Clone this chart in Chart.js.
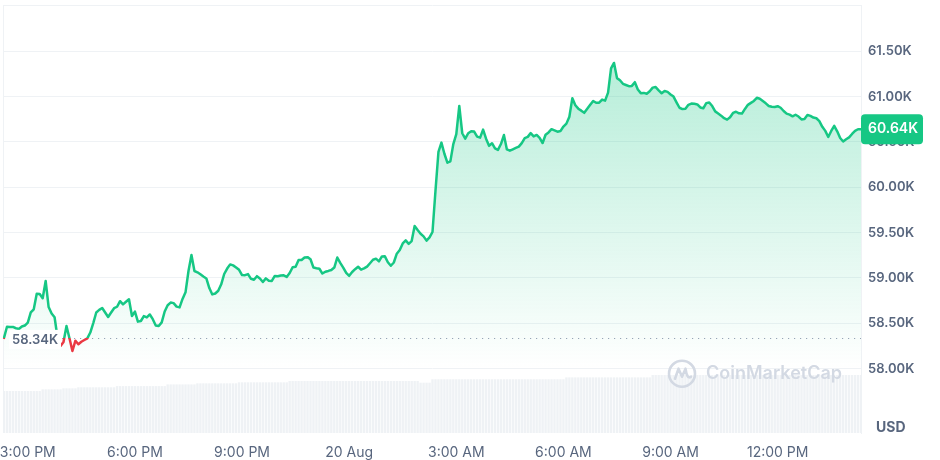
<!DOCTYPE html>
<html><head><meta charset="utf-8">
<script src="https://cdn.jsdelivr.net/npm/chart.js@4.4.1/dist/chart.umd.min.js"></script>
<style>html,body{margin:0;padding:0;background:#fff;}#wrap{width:940px;height:460px;}canvas{display:block;}</style>
</head><body><div id="wrap"><canvas id="c" width="940" height="460"></canvas></div>
<script>
// ---- data ----
const START_HOUR = 14, START_MIN = 20, STEP_MIN = 5;
const prices = [
58340,58462,58460,58460,58446,58438,58465,58476,58509,58620,
58655,58827,58824,58777,58967,58680,58608,58567,58339,58250,
58294,58471,58335,58195,58309,58269,58297,58316,58335,58399,
58503,58620,58648,58669,58620,58570,58619,58667,58683,58744,
58709,58738,58766,58581,58629,58519,58526,58580,58566,58598,
58546,58477,58470,58511,58631,58700,58729,58723,58684,58676,
58769,58842,59077,59254,59077,59063,59041,59016,58995,58889,
58819,58829,58859,58930,59044,59104,59150,59139,59116,59090,
59033,59031,59043,58991,58981,59020,58995,58956,58996,58969,
58967,59023,59019,59027,59029,59012,59055,59119,59124,59198,
59198,59226,59230,59207,59115,59108,59102,59049,59069,59078,
59088,59115,59226,59166,59114,59056,59024,59066,59097,59124,
59092,59106,59126,59163,59201,59213,59183,59238,59239,59174,
59135,59171,59268,59308,59381,59414,59377,59407,59574,59529,
59488,59459,59412,59447,59507,59960,60390,60493,60370,60271,
60286,60477,60587,60897,60596,60536,60596,60618,60615,60559,
60548,60636,60536,60457,60486,60430,60413,60477,60576,60418,
60404,60419,60434,60448,60487,60543,60556,60597,60561,60577,
60545,60488,60579,60605,60641,60627,60613,60620,60670,60702,
60779,60983,60905,60867,60845,60821,60865,60909,60952,60932,
60933,60967,60955,61044,61311,61371,61204,61181,61141,61128,
61115,61118,61159,61078,61038,61041,61032,61059,61099,61105,
61069,61037,61062,61052,61024,61000,60937,60877,60862,60866,
60909,60923,60921,60914,60880,60871,60928,60935,60896,60837,
60814,60790,60762,60746,60772,60820,60833,60816,60813,60864,
60909,60931,60952,60987,60977,60952,60926,60897,60888,60885,
60894,60877,60841,60812,60801,60783,60800,60780,60748,60753,
60797,60787,60769,60761,60730,60667,60622,60555,60621,60677,
60617,60543,60505,60530,60551,60588,60622,60640,60640
];
// 24h volume (billions USD)
const volumes = [
24.5,24.5,24.5,24.5,24.5,24.5,24.5,24.5,24.5,24.5,24.5,24.5,24.5,
25.5,25.5,25.5,25.5,25.5,25.5,25.5,
26.1,26.1,26.1,26.1,26.1,
26.7,26.7,26.7,26.7,26.7,26.7,26.7,26.7,26.7,26.7,26.7,26.7,26.7,
27.4,27.4,27.4,27.4,27.4,27.4,27.4,27.4,27.4,27.4,27.4,27.4,27.4,27.4,27.4,27.4,27.4,
28.4,28.4,28.4,28.4,28.4,28.4,28.4,28.4,28.4,28.4,
29.0,29.0,29.0,29.0,29.0,29.0,29.0,29.0,29.0,29.0,29.0,29.0,29.0,29.0,
29.6,29.6,29.6,29.6,29.6,29.6,29.6,29.6,29.6,29.6,29.6,29.6,29.6,29.6,29.6,29.6,29.6,
30.4,30.4,30.4,30.4,30.4,30.4,30.4,30.4,30.4,30.4,
30.4,30.4,30.4,30.4,30.4,30.4,30.4,30.4,30.4,30.4,
30.4,30.4,30.4,30.4,30.4,30.4,30.4,30.4,30.4,30.4,
30.4,30.4,30.4,30.4,30.4,30.4,30.4,30.4,30.4,30.4,
30.4,30.4,30.4,30.4,
29.4,29.4,29.4,29.4,
31.4,31.4,31.4,31.4,31.4,31.4,31.4,31.4,31.4,31.4,
31.4,31.4,31.4,31.4,31.4,31.4,31.4,31.4,31.4,31.4,
31.4,31.4,31.4,31.4,31.4,31.4,31.4,31.4,31.4,31.4,
31.4,31.4,31.4,31.4,31.4,31.4,31.4,31.4,31.4,31.4,
31.4,31.4,31.4,31.4,31.4,
32.5,32.5,32.5,32.5,32.5,32.5,32.5,32.5,32.5,32.5,
32.5,32.5,32.5,32.5,32.5,32.5,32.5,32.5,32.5,32.5,
32.5,32.5,32.5,32.5,32.5,32.5,32.5,32.5,32.5,
33.9,33.9,33.9,33.9,33.9,33.9,33.9,33.9,33.9,33.9,
33.9,33.9,33.9,33.9,33.9,33.9,33.9,33.9,33.9,33.9,
33.9,33.9,33.9,33.9,33.9,33.9,33.9,33.9,33.9,33.9,
33.9,33.9,33.9,33.9,33.9,33.9,33.9,33.9,33.9,33.9,
33.9,33.9,33.9,33.9,33.9,33.9,33.9,33.9,33.9,33.9,
33.9,33.9,33.9,33.9,33.9,33.9,33.9,33.9,33.9,33.9,
33.9,33.9,33.9,33.9,33.9,33.9,33.9,33.9,33.9,33.9,
33.9
];
const BASE_PRICE = 58340;
const Y_TICKS = [58000, 58500, 59000, 59500, 60000, 60500, 61000, 61500];
const X_TICK_TIMES = ['15:00','18:00','21:00','00:00','03:00','06:00','09:00','12:00'];
const X_TICK_TEXT  = ['3:00 PM','6:00 PM','9:00 PM','20 Aug','3:00 AM','6:00 AM','9:00 AM','12:00 PM'];
const UNIT = 'USD';
const BRAND = 'CoinMarketCap';

// ---- style ----
const GREEN = '#16c784', RED = '#ea3943', GRAY = '#58667e', GRID = '#eff2f5';
const FONT = 'Inter, "Noto Sans", sans-serif';
Chart.defaults.font.family = FONT;

const labels = prices.map((_, i) => {
  const m = START_HOUR * 60 + START_MIN + i * STEP_MIN;
  return String(Math.floor(m / 60) % 24).padStart(2, '0') + ':' + String(m % 60).padStart(2, '0');
});
const fmtK = v => (v / 1000).toFixed(2) + 'K';

function lineColor(ctx) {
  const chart = ctx.chart, a = chart.chartArea;
  if (!a) return GREEN;
  const yb = chart.scales.y.getPixelForValue(BASE_PRICE);
  const g = chart.ctx.createLinearGradient(0, a.top, 0, a.bottom);
  const s = Math.min(1, Math.max(0, (yb - a.top) / (a.bottom - a.top)));
  g.addColorStop(0, GREEN); g.addColorStop(s, GREEN);
  g.addColorStop(s, RED); g.addColorStop(1, RED);
  return g;
}
function fillColor(ctx) {
  const chart = ctx.chart, a = chart.chartArea;
  if (!a) return 'rgba(22,199,132,0.2)';
  const yEnd = chart.scales.y.getPixelForValue(Y_TICKS[0]);
  const g = chart.ctx.createLinearGradient(0, a.top, 0, yEnd);
  g.addColorStop(0, 'rgba(22,199,132,0.37)');
  g.addColorStop(1, 'rgba(22,199,132,0.0)');
  return g;
}
const noPad = s => { s.paddingTop = 0; s.paddingBottom = 0; s.paddingLeft = 0; s.paddingRight = 0; };

const overlay = {
  id: 'overlay',
  beforeDatasetsDraw(chart) {
    const { ctx, chartArea: a, scales: { y } } = chart;
    ctx.save();
    ctx.strokeStyle = GRID; ctx.lineWidth = 1;
    ctx.beginPath();
    ctx.moveTo(a.left - 0.5, a.top); ctx.lineTo(a.left - 0.5, a.bottom);
    ctx.moveTo(a.left, a.top + 0.5); ctx.lineTo(a.right, a.top + 0.5);
    ctx.stroke();
    const yb = Math.round(y.getPixelForValue(BASE_PRICE)) + 0.5;
    ctx.strokeStyle = '#9aa4b8'; ctx.lineWidth = 1.2; ctx.setLineDash([1.2, 4.8]);
    ctx.beginPath(); ctx.moveTo(a.left + 58, yb); ctx.lineTo(a.right, yb); ctx.stroke();
    ctx.restore();
  },
  afterDatasetsDraw(chart) {
    const { ctx, chartArea: a, scales: { y } } = chart;
    ctx.save();
    // watermark
    ctx.font = '600 18px ' + FONT;
    ctx.fillStyle = '#d3d9e3'; ctx.strokeStyle = '#d3d9e3';
    ctx.textBaseline = 'middle'; ctx.textAlign = 'right';
    const wy = y.getPixelForValue(Y_TICKS[0]) + 5;
    const tr = a.right - 19;
    ctx.fillText(BRAND, tr, wy);
    const tw = ctx.measureText(BRAND).width;
    const cx = tr - tw - 24, cy = wy;
    ctx.lineWidth = 2.6; ctx.lineJoin = 'round'; ctx.lineCap = 'round';
    ctx.beginPath(); ctx.arc(cx, cy, 13, 0, Math.PI * 2); ctx.stroke();
    ctx.beginPath();
    ctx.moveTo(cx - 7, cy + 5);
    ctx.lineTo(cx - 3.5, cy - 5);
    ctx.lineTo(cx, cy + 3);
    ctx.lineTo(cx + 3.5, cy - 5);
    ctx.quadraticCurveTo(cx + 5, cy + 6, cx + 9, cy + 3);
    ctx.stroke();
    // baseline label
    const yb = y.getPixelForValue(BASE_PRICE);
    ctx.fillStyle = '#ffffff';
    ctx.fillRect(a.left + 5, yb - 8, 52, 19);
    ctx.fillStyle = GRAY; ctx.textAlign = 'left';
    ctx.font = '600 13px ' + FONT;
    ctx.fillText(fmtK(BASE_PRICE), a.left + 8, yb + 2);
    ctx.restore();
  },
  afterDraw(chart) {
    const { ctx, chartArea: a, scales: { y } } = chart;
    ctx.save();
    const last = prices[prices.length - 1];
    const yl = y.getPixelForValue(last);
    ctx.fillStyle = GREEN;
    ctx.beginPath();
    ctx.roundRect(a.right, yl - 15, 62, 30, 4);
    ctx.fill();
    ctx.fillStyle = '#ffffff'; ctx.font = '600 14px ' + FONT;
    ctx.textBaseline = 'middle'; ctx.textAlign = 'left';
    ctx.fillText(fmtK(last), a.right + 7, yl);
    ctx.fillStyle = GRAY; ctx.font = '700 14px ' + FONT;
    ctx.fillText(UNIT, a.right + 15, a.bottom - 5);
    ctx.restore();
  }
};

new Chart(document.getElementById('c'), {
  data: {
    labels,
    datasets: [
      { type: 'line', data: prices, yAxisID: 'y', borderColor: lineColor, backgroundColor: fillColor,
        fill: 'start', borderWidth: 2.5, pointRadius: 0, tension: 0, order: 1,
        borderJoinStyle: 'round', borderCapStyle: 'round' },
      { type: 'bar', data: volumes, yAxisID: 'yv', backgroundColor: '#eff2f5',
        barPercentage: 0.8, categoryPercentage: 1, order: 2 }
    ]
  },
  options: {
    responsive: false, animation: false, devicePixelRatio: 1,
    layout: { autoPadding: false, padding: { left: 4, top: 5, right: 0, bottom: 0 } },
    plugins: { legend: { display: false }, tooltip: { enabled: false } },
    scales: {
      x: {
        offset: false,
        grid: { display: false, drawTicks: false }, border: { display: false },
        ticks: { autoSkip: false, maxRotation: 0, minRotation: 0, padding: 11, color: GRAY,
          font: { size: 14 },
          callback: (v, i) => { const k = X_TICK_TIMES.indexOf(labels[i]); return k >= 0 ? X_TICK_TEXT[k] : ''; } },
        afterFit: s => { s.height = 27; noPad(s); }
      },
      y: {
        position: 'right', min: 57291, max: 62010,
        afterBuildTicks: s => { s.ticks = Y_TICKS.map(v => ({ value: v })); },
        grid: { color: GRID, drawTicks: false },
        border: { display: true, color: GRID },
        ticks: { padding: 7, color: GRAY, font: { size: 13, weight: '600' }, callback: v => fmtK(v) },
        afterFit: s => { s.width = 79; noPad(s); }
      },
      yv: { display: false, min: 0, max: 250, afterFit: noPad }
    }
  },
  plugins: [overlay]
});
</script>
</body></html>
